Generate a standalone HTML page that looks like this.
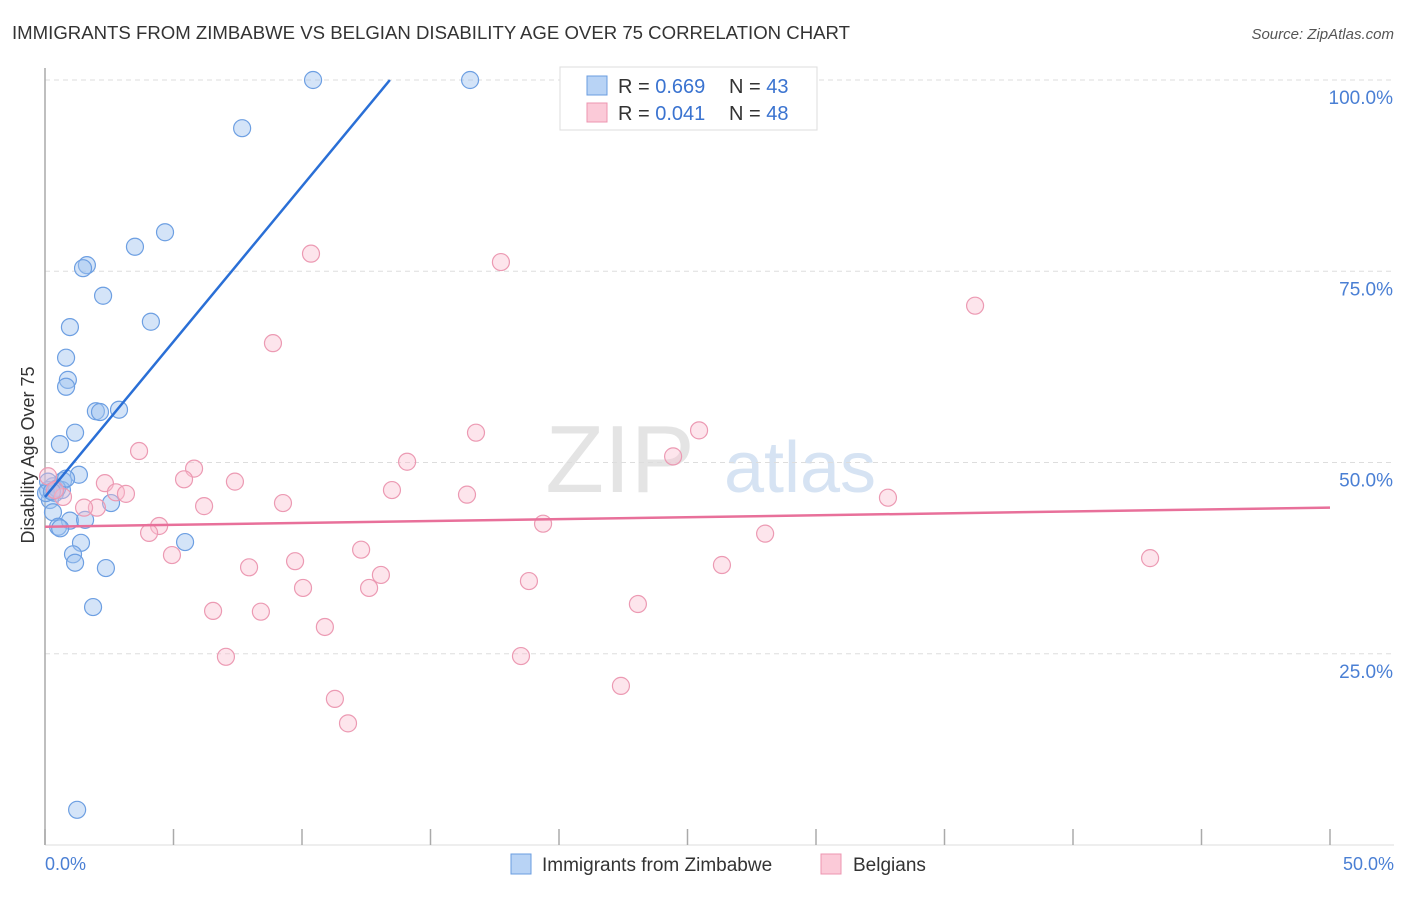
<!DOCTYPE html>
<html><head><meta charset="utf-8"><style>
body{margin:0;background:#fff;font-family:"Liberation Sans",sans-serif}
svg text{font-family:"Liberation Sans",sans-serif}
</style></head><body>
<svg id="chart" width="1406" height="892">
<text x="12" y="39" font-size="18" fill="#333" textLength="838" lengthAdjust="spacingAndGlyphs">IMMIGRANTS FROM ZIMBABWE VS BELGIAN DISABILITY AGE OVER 75 CORRELATION CHART</text>
<text x="1394" y="39" font-size="15" fill="#555" font-style="italic" text-anchor="end">Source: ZipAtlas.com</text>
<text x="620" y="492" font-size="96" fill="#e4e4e4" font-family="Liberation Serif" text-anchor="middle">ZIP</text>
<text x="800" y="492" font-size="72" fill="#d6e3f3" text-anchor="middle">atlas</text>
<g id="grid"></g>
<line x1="45" y1="68" x2="45" y2="845" stroke="#aaa" stroke-width="1.5"/>
<line x1="45" y1="845" x2="1394" y2="845" stroke="#ddd" stroke-width="1"/>
<g id="xt"></g>
<text transform="translate(34,455) rotate(-90)" font-size="18" fill="#333" text-anchor="middle">Disability Age Over 75</text>
<text x="45" y="870" font-size="18" fill="#4a7fd4">0.0%</text>
<text x="1394" y="870" font-size="18" fill="#4a7fd4" text-anchor="end">50.0%</text>
<g id="pts"></g>
<g id="lines"></g>
<g>
<rect x="560" y="67" width="257" height="63" fill="#fff" stroke="#ddd"/>
<rect x="587" y="76" width="20" height="19" fill="#b8d3f5" stroke="#6a9de0"/>
<rect x="587" y="103" width="20" height="19" fill="#fbcad8" stroke="#ec95b0"/>
<text x="618" y="93" font-size="20" fill="#333">R = <tspan fill="#3a73d0">0.669</tspan></text>
<text x="729" y="93" font-size="20" fill="#333">N = <tspan fill="#3a73d0">43</tspan></text>
<text x="618" y="120" font-size="20" fill="#333">R = <tspan fill="#3a73d0">0.041</tspan></text>
<text x="729" y="120" font-size="20" fill="#333">N = <tspan fill="#3a73d0">48</tspan></text>
</g>
<g>
<rect x="511" y="854" width="20" height="20" fill="#b8d3f5" stroke="#6a9de0"/>
<text x="542" y="871" font-size="19" fill="#333">Immigrants from Zimbabwe</text>
<rect x="821" y="854" width="20" height="20" fill="#fbcad8" stroke="#ec95b0"/>
<text x="853" y="871" font-size="19" fill="#333">Belgians</text>
</g>
</svg>
<script>
const yTicks=[25,50,75,100];
const yTickLabels=["25.0%","50.0%","75.0%","100.0%"];
const xTicks=[0,5,10,15,20,25,30,35,40,45,50];
const blueX=[10.43,16.54,7.67,4.67,3.50,1.63,1.48,2.26,4.12,0.97,0.82,0.89,0.82,1.98,2.14,2.88,1.17,0.58,1.32,0.70,0.31,0.12,0.39,0.19,2.57,0.31,0.97,1.56,0.51,0.59,1.40,5.45,1.09,1.17,2.37,1.87,1.25,0.12,0.66,0.04,0.47,0.27,0.82];
const blueY=[100,100,93.7,80.1,78.2,75.8,75.4,71.8,68.4,67.7,63.7,60.8,59.9,56.7,56.6,56.9,53.9,52.4,48.4,47.6,46.9,46.4,46.0,45.1,44.7,43.5,42.4,42.5,41.6,41.4,39.5,39.6,38.0,36.9,36.2,31.1,4.6,47.5,46.4,46.0,46.6,46.2,47.9];
const pinkX=[10.35,17.74,36.19,8.87,25.45,16.77,3.66,24.44,14.09,5.80,5.41,7.39,2.33,2.76,3.15,13.50,16.42,32.80,9.26,6.19,2.02,1.52,0.70,0.12,19.38,4.44,4.05,28.02,43.0,4.94,12.30,9.73,7.94,26.34,13.07,18.83,10.04,12.61,23.07,6.54,8.40,10.89,18.52,7.04,22.41,11.28,11.79,0.39];
const pinkY=[77.3,76.2,70.5,65.6,54.2,53.9,51.5,50.8,50.1,49.2,47.8,47.5,47.3,46.1,45.9,46.4,45.8,45.4,44.7,44.3,44.1,44.1,45.5,48.2,42.0,41.7,40.8,40.7,37.5,37.9,38.6,37.1,36.3,36.6,35.3,34.5,33.6,33.6,31.5,30.6,30.5,28.5,24.7,24.6,20.8,19.1,15.9,46.4];
const blueFit=[45.5,13.42,100];
const pinkFit=[41.6,44.1];
const NS="http://www.w3.org/2000/svg";
const sx=v=>45+v/50*1285, sy=v=>845-v/100*765;
function mk(t,a,p){const e=document.createElementNS(NS,t);for(const k in a)e.setAttribute(k,a[k]);p.appendChild(e);return e;}
const grid=document.getElementById('grid');
yTicks.forEach((t,i)=>{
 const l=mk('line',{x1:45,x2:1394,y1:sy(t),y2:sy(t),stroke:'#ddd','stroke-dasharray':'5,4'},grid);
 
 
 const tx=mk('text',{x:1393,y:sy(t)+24,'font-size':19,fill:'#4a7fd4','text-anchor':'end'},grid);
 tx.textContent=yTickLabels[i];
 
 
});
const xt=document.getElementById('xt');
xTicks.forEach(t=>{
 const l=mk('line',{x1:sx(t),x2:sx(t),y1:829,y2:845,stroke:'#aaa','stroke-width':1.5},xt);
 
 
});
const pts=document.getElementById('pts');
blueX.forEach((x,i)=>{
 const c=mk('circle',{cx:sx(x),cy:sy(blueY[i]),r:8.5,fill:'rgba(160,195,240,0.45)',stroke:'#6d9fe2','stroke-width':1.2},pts);
 
 
});
pinkX.forEach((x,i)=>{
 const c=mk('circle',{cx:sx(x),cy:sy(pinkY[i]),r:8.5,fill:'rgba(250,190,208,0.4)',stroke:'#ec9ab3','stroke-width':1.2},pts);
 
 
});
const lines=document.getElementById('lines');
const bl=mk('line',{x1:sx(0),y1:sy(blueFit[0]),x2:sx(blueFit[1]),y2:sy(blueFit[2]),stroke:'#2a6fd6','stroke-width':2.5},lines);


const pl=mk('line',{x1:sx(0),y1:sy(pinkFit[0]),x2:sx(50),y2:sy(pinkFit[1]),stroke:'#e8709a','stroke-width':2.5},lines);


</script>
</body></html>
